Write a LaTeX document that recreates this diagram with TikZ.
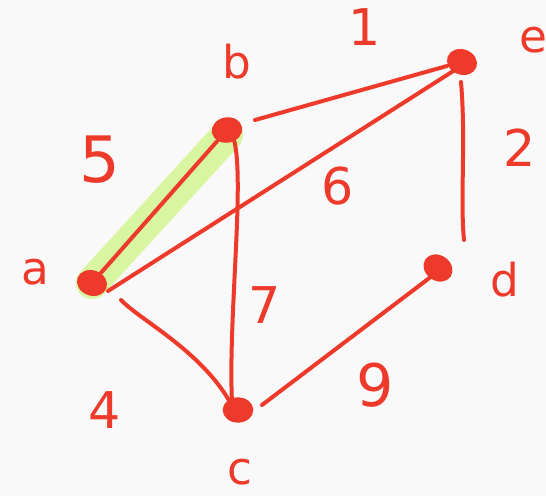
\documentclass[tikz,border=0pt]{standalone}
\usepackage{fontspec}
\setmainfont{DejaVu Sans}
\usetikzlibrary{shapes.geometric}
\definecolor{ink}{HTML}{EE3A2A}
\definecolor{hl}{HTML}{D8F5A0}
\definecolor{bg}{HTML}{F9F9F9}
\begin{document}
\begin{tikzpicture}[x=0.75pt,y=-0.75pt,
  vert/.style={ellipse,fill=ink,inner sep=0pt,minimum width=23pt,minimum height=19pt},
  edge/.style={draw=ink,line width=3pt,line cap=round},
  lab/.style={text=ink,font=\fontsize{34}{38}\selectfont,inner sep=0pt},
  wt/.style={text=ink,font=\fontsize{38}{42}\selectfont,inner sep=0pt}]
\useasboundingbox[fill=bg] (0,0) rectangle (546,496);
% highlight
\draw[hl,line width=24pt,line cap=round] (92,283) -- (227,135);
% vertices
\node[vert,rotate=10] (b) at (227,130) {};
\node[vert,rotate=-20] (e) at (462,62) {};
\node[vert,rotate=-20] (a) at (92,283) {};
\node[vert,rotate=-35] (d) at (438,268) {};
\node[vert] (c) at (238,410) {};
% edges
\coordinate (b1) at (255,120);
\coordinate (e1) at (447,66);
\draw[edge] (b1) -- (e1);
\draw[edge] (a) -- (b);
\coordinate (a1) at (108,291);
\coordinate (e2) at (458,68);
\draw[edge] (a1) -- (e2);
\coordinate (b2) at (234,140);
\coordinate (c1) at (232,402);
\draw[edge] (b2) .. controls (245,180) and (228,320) .. (c1);
\coordinate (e3) at (461,82);
\coordinate (d1) at (464,240);
\draw[edge] (e3) .. controls (466,140) and (460,200) .. (d1);
\coordinate (d2) at (432,276);
\coordinate (c2) at (262,405);
\draw[edge] (d2) -- (c2);
\coordinate (a2) at (121,300);
\coordinate (c3) at (230,402);
\draw[edge] (a2) .. controls (140,320) and (200,350) .. (c3);
% vertex labels
\node[lab] (lb) at (237,62) {b};
\node[lab] (le) at (533,40) {e};
\node[lab] (la) at (35,272) {a};
\node[lab] (ld) at (505,280) {d};
\node[lab] (lc) at (240,472) {c};
% weights
\node[wt] (w1) at (365,27) {1};
\node[wt] (w2) at (520,148) {2};
\node[wt,font=\fontsize{48}{52}\selectfont] (w5) at (100,160) {5};
\node[wt] (w6) at (338,186) {6};
\node[wt] (w7) at (265,305) {7};
\node[wt,font=\fontsize{44}{48}\selectfont] (w9) at (375,385) {9};
\node[wt] (w4) at (105,410) {4};
\end{tikzpicture}
\end{document}
